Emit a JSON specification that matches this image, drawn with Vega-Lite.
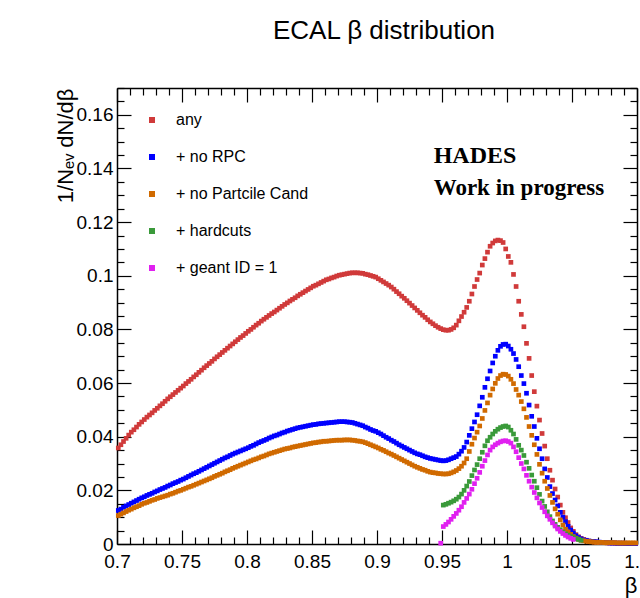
{
"$schema":"https://vega.github.io/schema/vega-lite/v6.json",
"width":520,"height":456,
"autosize":{"type":"none"},
"padding":{"left":117,"top":88,"right":3,"bottom":54},
"background":"white",
"config":{"view":{"stroke":null},"font":"Liberation Sans"},
"title":{"text":"ECAL β distribution","fontSize":26,"font":"Liberation Sans","fontWeight":"normal","anchor":"middle","baseline":"alphabetic","offset":14,"dx":7,"color":"black"},
"datasets":{
"hist":[
{"s":"a","x":0.701,"y":0.0358},{"s":"a","x":0.703,"y":0.0370},{"s":"a","x":0.705,"y":0.0382},{"s":"a","x":0.707,"y":0.0394},{"s":"a","x":0.709,"y":0.0406},
{"s":"a","x":0.711,"y":0.0417},{"s":"a","x":0.713,"y":0.0426},{"s":"a","x":0.715,"y":0.0436},{"s":"a","x":0.717,"y":0.0446},{"s":"a","x":0.719,"y":0.0455},
{"s":"a","x":0.721,"y":0.0464},{"s":"a","x":0.723,"y":0.0473},{"s":"a","x":0.725,"y":0.0481},{"s":"a","x":0.727,"y":0.0489},{"s":"a","x":0.729,"y":0.0498},
{"s":"a","x":0.731,"y":0.0506},{"s":"a","x":0.733,"y":0.0515},{"s":"a","x":0.735,"y":0.0523},{"s":"a","x":0.737,"y":0.0532},{"s":"a","x":0.739,"y":0.0541},
{"s":"a","x":0.741,"y":0.0549},{"s":"a","x":0.743,"y":0.0557},{"s":"a","x":0.745,"y":0.0565},{"s":"a","x":0.747,"y":0.0573},{"s":"a","x":0.749,"y":0.0581},
{"s":"a","x":0.751,"y":0.0589},{"s":"a","x":0.753,"y":0.0598},{"s":"a","x":0.755,"y":0.0606},{"s":"a","x":0.757,"y":0.0614},{"s":"a","x":0.759,"y":0.0623},
{"s":"a","x":0.761,"y":0.0631},{"s":"a","x":0.763,"y":0.0640},{"s":"a","x":0.765,"y":0.0648},{"s":"a","x":0.767,"y":0.0657},{"s":"a","x":0.769,"y":0.0665},
{"s":"a","x":0.771,"y":0.0673},{"s":"a","x":0.773,"y":0.0681},{"s":"a","x":0.775,"y":0.0690},{"s":"a","x":0.777,"y":0.0698},{"s":"a","x":0.779,"y":0.0706},
{"s":"a","x":0.781,"y":0.0714},{"s":"a","x":0.783,"y":0.0722},{"s":"a","x":0.785,"y":0.0730},{"s":"a","x":0.787,"y":0.0738},{"s":"a","x":0.789,"y":0.0746},
{"s":"a","x":0.791,"y":0.0754},{"s":"a","x":0.793,"y":0.0762},{"s":"a","x":0.795,"y":0.0770},{"s":"a","x":0.797,"y":0.0777},{"s":"a","x":0.799,"y":0.0785},
{"s":"a","x":0.801,"y":0.0793},{"s":"a","x":0.803,"y":0.0800},{"s":"a","x":0.805,"y":0.0808},{"s":"a","x":0.807,"y":0.0816},{"s":"a","x":0.809,"y":0.0823},
{"s":"a","x":0.811,"y":0.0831},{"s":"a","x":0.813,"y":0.0838},{"s":"a","x":0.815,"y":0.0845},{"s":"a","x":0.817,"y":0.0852},{"s":"a","x":0.819,"y":0.0859},
{"s":"a","x":0.821,"y":0.0865},{"s":"a","x":0.823,"y":0.0872},{"s":"a","x":0.825,"y":0.0879},{"s":"a","x":0.827,"y":0.0886},{"s":"a","x":0.829,"y":0.0893},
{"s":"a","x":0.831,"y":0.0899},{"s":"a","x":0.833,"y":0.0906},{"s":"a","x":0.835,"y":0.0912},{"s":"a","x":0.837,"y":0.0918},{"s":"a","x":0.839,"y":0.0925},
{"s":"a","x":0.841,"y":0.0931},{"s":"a","x":0.843,"y":0.0937},{"s":"a","x":0.845,"y":0.0943},{"s":"a","x":0.847,"y":0.0949},{"s":"a","x":0.849,"y":0.0955},
{"s":"a","x":0.851,"y":0.0961},{"s":"a","x":0.853,"y":0.0965},{"s":"a","x":0.855,"y":0.0970},{"s":"a","x":0.857,"y":0.0975},{"s":"a","x":0.859,"y":0.0980},
{"s":"a","x":0.861,"y":0.0985},{"s":"a","x":0.863,"y":0.0988},{"s":"a","x":0.865,"y":0.0992},{"s":"a","x":0.867,"y":0.0995},{"s":"a","x":0.869,"y":0.0999},
{"s":"a","x":0.871,"y":0.1002},{"s":"a","x":0.873,"y":0.1004},{"s":"a","x":0.875,"y":0.1006},{"s":"a","x":0.877,"y":0.1008},{"s":"a","x":0.879,"y":0.1010},
{"s":"a","x":0.881,"y":0.1011},{"s":"a","x":0.883,"y":0.1011},{"s":"a","x":0.885,"y":0.1011},{"s":"a","x":0.887,"y":0.1010},{"s":"a","x":0.889,"y":0.1009},
{"s":"a","x":0.891,"y":0.1006},{"s":"a","x":0.893,"y":0.1004},{"s":"a","x":0.895,"y":0.1001},{"s":"a","x":0.897,"y":0.0998},{"s":"a","x":0.899,"y":0.0995},
{"s":"a","x":0.901,"y":0.0989},{"s":"a","x":0.903,"y":0.0983},{"s":"a","x":0.905,"y":0.0977},{"s":"a","x":0.907,"y":0.0971},{"s":"a","x":0.909,"y":0.0965},
{"s":"a","x":0.911,"y":0.0958},{"s":"a","x":0.913,"y":0.0950},{"s":"a","x":0.915,"y":0.0941},{"s":"a","x":0.917,"y":0.0933},{"s":"a","x":0.919,"y":0.0924},
{"s":"a","x":0.921,"y":0.0916},{"s":"a","x":0.923,"y":0.0907},{"s":"a","x":0.925,"y":0.0898},{"s":"a","x":0.927,"y":0.0889},{"s":"a","x":0.929,"y":0.0880},
{"s":"a","x":0.931,"y":0.0871},{"s":"a","x":0.933,"y":0.0862},{"s":"a","x":0.935,"y":0.0853},{"s":"a","x":0.937,"y":0.0845},{"s":"a","x":0.939,"y":0.0836},
{"s":"a","x":0.941,"y":0.0828},{"s":"a","x":0.943,"y":0.0821},{"s":"a","x":0.945,"y":0.0814},{"s":"a","x":0.947,"y":0.0808},{"s":"a","x":0.949,"y":0.0803},
{"s":"a","x":0.951,"y":0.0799},{"s":"a","x":0.953,"y":0.0797},{"s":"a","x":0.955,"y":0.0797},{"s":"a","x":0.957,"y":0.0800},{"s":"a","x":0.959,"y":0.0806},
{"s":"a","x":0.961,"y":0.0816},{"s":"a","x":0.963,"y":0.0832},{"s":"a","x":0.965,"y":0.0848},{"s":"a","x":0.967,"y":0.0864},{"s":"a","x":0.969,"y":0.0882},
{"s":"a","x":0.971,"y":0.0905},{"s":"a","x":0.973,"y":0.0932},{"s":"a","x":0.975,"y":0.0960},{"s":"a","x":0.977,"y":0.0986},{"s":"a","x":0.979,"y":0.1010},
{"s":"a","x":0.981,"y":0.1040},{"s":"a","x":0.983,"y":0.1064},{"s":"a","x":0.985,"y":0.1088},{"s":"a","x":0.987,"y":0.1110},{"s":"a","x":0.989,"y":0.1122},
{"s":"a","x":0.991,"y":0.1130},{"s":"a","x":0.993,"y":0.1133},{"s":"a","x":0.995,"y":0.1131},{"s":"a","x":0.997,"y":0.1124},{"s":"a","x":0.999,"y":0.1100},
{"s":"a","x":1.001,"y":0.1072},{"s":"a","x":1.003,"y":0.1050},{"s":"a","x":1.005,"y":0.1005},{"s":"a","x":1.007,"y":0.0960},{"s":"a","x":1.009,"y":0.0905},
{"s":"a","x":1.011,"y":0.0856},{"s":"a","x":1.013,"y":0.0810},{"s":"a","x":1.015,"y":0.0748},{"s":"a","x":1.017,"y":0.0692},{"s":"a","x":1.019,"y":0.0628},
{"s":"a","x":1.021,"y":0.0568},{"s":"a","x":1.023,"y":0.0514},{"s":"a","x":1.025,"y":0.0462},{"s":"a","x":1.027,"y":0.0412},{"s":"a","x":1.029,"y":0.0365},
{"s":"a","x":1.031,"y":0.0318},{"s":"a","x":1.033,"y":0.0275},{"s":"a","x":1.035,"y":0.0238},{"s":"a","x":1.037,"y":0.0205},{"s":"a","x":1.039,"y":0.0175},
{"s":"a","x":1.041,"y":0.0145},{"s":"a","x":1.043,"y":0.0118},{"s":"a","x":1.045,"y":0.0098},{"s":"a","x":1.047,"y":0.0080},{"s":"a","x":1.049,"y":0.0060},
{"s":"a","x":1.051,"y":0.0047},{"s":"a","x":1.053,"y":0.0035},{"s":"a","x":1.055,"y":0.0027},{"s":"a","x":1.057,"y":0.0021},{"s":"a","x":1.059,"y":0.0017},
{"s":"a","x":1.061,"y":0.0014},{"s":"a","x":1.063,"y":0.0011},{"s":"a","x":1.065,"y":0.0009},{"s":"a","x":1.067,"y":0.0008},{"s":"a","x":1.069,"y":0.0007},
{"s":"a","x":1.071,"y":0.0006},{"s":"a","x":1.073,"y":0.0005},{"s":"a","x":1.075,"y":0.0005},{"s":"a","x":1.077,"y":0.0004},{"s":"a","x":1.079,"y":0.0004},
{"s":"a","x":1.081,"y":0.0004},{"s":"a","x":1.083,"y":0.0003},{"s":"a","x":1.085,"y":0.0003},{"s":"a","x":1.087,"y":0.0003},{"s":"a","x":1.089,"y":0.0003},
{"s":"a","x":1.091,"y":0.0002},{"s":"a","x":1.093,"y":0.0002},{"s":"a","x":1.095,"y":0.0002},{"s":"a","x":1.097,"y":0.0002},{"s":"a","x":1.099,"y":0.0002},
{"s":"b","x":0.701,"y":0.0125},{"s":"b","x":0.703,"y":0.0130},{"s":"b","x":0.705,"y":0.0137},{"s":"b","x":0.707,"y":0.0142},{"s":"b","x":0.709,"y":0.0147},
{"s":"b","x":0.711,"y":0.0152},{"s":"b","x":0.713,"y":0.0157},{"s":"b","x":0.715,"y":0.0162},{"s":"b","x":0.717,"y":0.0167},{"s":"b","x":0.719,"y":0.0172},
{"s":"b","x":0.721,"y":0.0176},{"s":"b","x":0.723,"y":0.0181},{"s":"b","x":0.725,"y":0.0185},{"s":"b","x":0.727,"y":0.0189},{"s":"b","x":0.729,"y":0.0194},
{"s":"b","x":0.731,"y":0.0198},{"s":"b","x":0.733,"y":0.0203},{"s":"b","x":0.735,"y":0.0207},{"s":"b","x":0.737,"y":0.0211},{"s":"b","x":0.739,"y":0.0216},
{"s":"b","x":0.741,"y":0.0220},{"s":"b","x":0.743,"y":0.0225},{"s":"b","x":0.745,"y":0.0229},{"s":"b","x":0.747,"y":0.0233},{"s":"b","x":0.749,"y":0.0238},
{"s":"b","x":0.751,"y":0.0242},{"s":"b","x":0.753,"y":0.0247},{"s":"b","x":0.755,"y":0.0252},{"s":"b","x":0.757,"y":0.0257},{"s":"b","x":0.759,"y":0.0262},
{"s":"b","x":0.761,"y":0.0266},{"s":"b","x":0.763,"y":0.0271},{"s":"b","x":0.765,"y":0.0276},{"s":"b","x":0.767,"y":0.0281},{"s":"b","x":0.769,"y":0.0286},
{"s":"b","x":0.771,"y":0.0291},{"s":"b","x":0.773,"y":0.0296},{"s":"b","x":0.775,"y":0.0301},{"s":"b","x":0.777,"y":0.0306},{"s":"b","x":0.779,"y":0.0311},
{"s":"b","x":0.781,"y":0.0316},{"s":"b","x":0.783,"y":0.0321},{"s":"b","x":0.785,"y":0.0325},{"s":"b","x":0.787,"y":0.0330},{"s":"b","x":0.789,"y":0.0335},
{"s":"b","x":0.791,"y":0.0339},{"s":"b","x":0.793,"y":0.0343},{"s":"b","x":0.795,"y":0.0347},{"s":"b","x":0.797,"y":0.0351},{"s":"b","x":0.799,"y":0.0355},
{"s":"b","x":0.801,"y":0.0359},{"s":"b","x":0.803,"y":0.0364},{"s":"b","x":0.805,"y":0.0368},{"s":"b","x":0.807,"y":0.0373},{"s":"b","x":0.809,"y":0.0378},
{"s":"b","x":0.811,"y":0.0382},{"s":"b","x":0.813,"y":0.0386},{"s":"b","x":0.815,"y":0.0390},{"s":"b","x":0.817,"y":0.0395},{"s":"b","x":0.819,"y":0.0399},
{"s":"b","x":0.821,"y":0.0403},{"s":"b","x":0.823,"y":0.0406},{"s":"b","x":0.825,"y":0.0410},{"s":"b","x":0.827,"y":0.0414},{"s":"b","x":0.829,"y":0.0417},
{"s":"b","x":0.831,"y":0.0421},{"s":"b","x":0.833,"y":0.0424},{"s":"b","x":0.835,"y":0.0427},{"s":"b","x":0.837,"y":0.0430},{"s":"b","x":0.839,"y":0.0433},
{"s":"b","x":0.841,"y":0.0435},{"s":"b","x":0.843,"y":0.0437},{"s":"b","x":0.845,"y":0.0439},{"s":"b","x":0.847,"y":0.0441},{"s":"b","x":0.849,"y":0.0443},
{"s":"b","x":0.851,"y":0.0445},{"s":"b","x":0.853,"y":0.0446},{"s":"b","x":0.855,"y":0.0448},{"s":"b","x":0.857,"y":0.0449},{"s":"b","x":0.859,"y":0.0450},
{"s":"b","x":0.861,"y":0.0451},{"s":"b","x":0.863,"y":0.0452},{"s":"b","x":0.865,"y":0.0453},{"s":"b","x":0.867,"y":0.0454},{"s":"b","x":0.869,"y":0.0455},
{"s":"b","x":0.871,"y":0.0456},{"s":"b","x":0.873,"y":0.0456},{"s":"b","x":0.875,"y":0.0456},{"s":"b","x":0.877,"y":0.0455},{"s":"b","x":0.879,"y":0.0454},
{"s":"b","x":0.881,"y":0.0453},{"s":"b","x":0.883,"y":0.0450},{"s":"b","x":0.885,"y":0.0447},{"s":"b","x":0.887,"y":0.0444},{"s":"b","x":0.889,"y":0.0441},
{"s":"b","x":0.891,"y":0.0436},{"s":"b","x":0.893,"y":0.0432},{"s":"b","x":0.895,"y":0.0427},{"s":"b","x":0.897,"y":0.0423},{"s":"b","x":0.899,"y":0.0420},
{"s":"b","x":0.901,"y":0.0415},{"s":"b","x":0.903,"y":0.0410},{"s":"b","x":0.905,"y":0.0404},{"s":"b","x":0.907,"y":0.0398},{"s":"b","x":0.909,"y":0.0393},
{"s":"b","x":0.911,"y":0.0387},{"s":"b","x":0.913,"y":0.0382},{"s":"b","x":0.915,"y":0.0376},{"s":"b","x":0.917,"y":0.0370},{"s":"b","x":0.919,"y":0.0365},
{"s":"b","x":0.921,"y":0.0360},{"s":"b","x":0.923,"y":0.0355},{"s":"b","x":0.925,"y":0.0350},{"s":"b","x":0.927,"y":0.0345},{"s":"b","x":0.929,"y":0.0340},
{"s":"b","x":0.931,"y":0.0336},{"s":"b","x":0.933,"y":0.0333},{"s":"b","x":0.935,"y":0.0329},{"s":"b","x":0.937,"y":0.0325},{"s":"b","x":0.939,"y":0.0322},
{"s":"b","x":0.941,"y":0.0319},{"s":"b","x":0.943,"y":0.0317},{"s":"b","x":0.945,"y":0.0315},{"s":"b","x":0.947,"y":0.0313},{"s":"b","x":0.949,"y":0.0311},
{"s":"b","x":0.951,"y":0.0310},{"s":"b","x":0.953,"y":0.0311},{"s":"b","x":0.955,"y":0.0314},{"s":"b","x":0.957,"y":0.0318},{"s":"b","x":0.959,"y":0.0322},
{"s":"b","x":0.961,"y":0.0326},{"s":"b","x":0.963,"y":0.0335},{"s":"b","x":0.965,"y":0.0346},{"s":"b","x":0.967,"y":0.0360},{"s":"b","x":0.969,"y":0.0380},
{"s":"b","x":0.971,"y":0.0405},{"s":"b","x":0.973,"y":0.0430},{"s":"b","x":0.975,"y":0.0455},{"s":"b","x":0.977,"y":0.0482},{"s":"b","x":0.979,"y":0.0515},
{"s":"b","x":0.981,"y":0.0547},{"s":"b","x":0.983,"y":0.0584},{"s":"b","x":0.985,"y":0.0616},{"s":"b","x":0.987,"y":0.0645},{"s":"b","x":0.989,"y":0.0675},
{"s":"b","x":0.991,"y":0.0700},{"s":"b","x":0.993,"y":0.0722},{"s":"b","x":0.995,"y":0.0737},{"s":"b","x":0.997,"y":0.0744},{"s":"b","x":0.999,"y":0.0745},
{"s":"b","x":1.001,"y":0.0738},{"s":"b","x":1.003,"y":0.0726},{"s":"b","x":1.005,"y":0.0710},{"s":"b","x":1.007,"y":0.0688},{"s":"b","x":1.009,"y":0.0661},
{"s":"b","x":1.011,"y":0.0628},{"s":"b","x":1.013,"y":0.0598},{"s":"b","x":1.015,"y":0.0562},{"s":"b","x":1.017,"y":0.0518},{"s":"b","x":1.019,"y":0.0476},
{"s":"b","x":1.021,"y":0.0438},{"s":"b","x":1.023,"y":0.0394},{"s":"b","x":1.025,"y":0.0355},{"s":"b","x":1.027,"y":0.0318},{"s":"b","x":1.029,"y":0.0280},
{"s":"b","x":1.031,"y":0.0248},{"s":"b","x":1.033,"y":0.0214},{"s":"b","x":1.035,"y":0.0188},{"s":"b","x":1.037,"y":0.0164},{"s":"b","x":1.039,"y":0.0142},
{"s":"b","x":1.041,"y":0.0118},{"s":"b","x":1.043,"y":0.0100},{"s":"b","x":1.045,"y":0.0083},{"s":"b","x":1.047,"y":0.0066},{"s":"b","x":1.049,"y":0.0052},
{"s":"b","x":1.051,"y":0.0041},{"s":"b","x":1.053,"y":0.0031},{"s":"b","x":1.055,"y":0.0024},{"s":"b","x":1.057,"y":0.0019},{"s":"b","x":1.059,"y":0.0015},
{"s":"b","x":1.061,"y":0.0013},{"s":"b","x":1.063,"y":0.0011},{"s":"b","x":1.065,"y":0.0010},{"s":"b","x":1.067,"y":0.0009},{"s":"b","x":1.069,"y":0.0008},
{"s":"b","x":1.071,"y":0.0007},{"s":"b","x":1.073,"y":0.0006},{"s":"b","x":1.075,"y":0.0005},{"s":"b","x":1.077,"y":0.0005},{"s":"b","x":1.079,"y":0.0004},
{"s":"b","x":1.081,"y":0.0004},{"s":"b","x":1.083,"y":0.0004},{"s":"b","x":1.085,"y":0.0003},{"s":"b","x":1.087,"y":0.0003},{"s":"b","x":1.089,"y":0.0003},
{"s":"b","x":1.091,"y":0.0003},{"s":"b","x":1.093,"y":0.0002},{"s":"b","x":1.095,"y":0.0002},{"s":"b","x":1.097,"y":0.0002},{"s":"b","x":1.099,"y":0.0002},
{"s":"c","x":0.701,"y":0.0106},{"s":"c","x":0.703,"y":0.0111},{"s":"c","x":0.705,"y":0.0116},{"s":"c","x":0.707,"y":0.0121},{"s":"c","x":0.709,"y":0.0126},
{"s":"c","x":0.711,"y":0.0130},{"s":"c","x":0.713,"y":0.0135},{"s":"c","x":0.715,"y":0.0139},{"s":"c","x":0.717,"y":0.0143},{"s":"c","x":0.719,"y":0.0148},
{"s":"c","x":0.721,"y":0.0152},{"s":"c","x":0.723,"y":0.0155},{"s":"c","x":0.725,"y":0.0159},{"s":"c","x":0.727,"y":0.0163},{"s":"c","x":0.729,"y":0.0166},
{"s":"c","x":0.731,"y":0.0170},{"s":"c","x":0.733,"y":0.0173},{"s":"c","x":0.735,"y":0.0176},{"s":"c","x":0.737,"y":0.0179},{"s":"c","x":0.739,"y":0.0182},
{"s":"c","x":0.741,"y":0.0186},{"s":"c","x":0.743,"y":0.0189},{"s":"c","x":0.745,"y":0.0193},{"s":"c","x":0.747,"y":0.0197},{"s":"c","x":0.749,"y":0.0200},
{"s":"c","x":0.751,"y":0.0204},{"s":"c","x":0.753,"y":0.0208},{"s":"c","x":0.755,"y":0.0212},{"s":"c","x":0.757,"y":0.0215},{"s":"c","x":0.759,"y":0.0219},
{"s":"c","x":0.761,"y":0.0223},{"s":"c","x":0.763,"y":0.0227},{"s":"c","x":0.765,"y":0.0231},{"s":"c","x":0.767,"y":0.0235},{"s":"c","x":0.769,"y":0.0239},
{"s":"c","x":0.771,"y":0.0243},{"s":"c","x":0.773,"y":0.0247},{"s":"c","x":0.775,"y":0.0252},{"s":"c","x":0.777,"y":0.0256},{"s":"c","x":0.779,"y":0.0260},
{"s":"c","x":0.781,"y":0.0264},{"s":"c","x":0.783,"y":0.0269},{"s":"c","x":0.785,"y":0.0273},{"s":"c","x":0.787,"y":0.0277},{"s":"c","x":0.789,"y":0.0282},
{"s":"c","x":0.791,"y":0.0286},{"s":"c","x":0.793,"y":0.0290},{"s":"c","x":0.795,"y":0.0294},{"s":"c","x":0.797,"y":0.0298},{"s":"c","x":0.799,"y":0.0302},
{"s":"c","x":0.801,"y":0.0306},{"s":"c","x":0.803,"y":0.0310},{"s":"c","x":0.805,"y":0.0314},{"s":"c","x":0.807,"y":0.0317},{"s":"c","x":0.809,"y":0.0321},
{"s":"c","x":0.811,"y":0.0325},{"s":"c","x":0.813,"y":0.0328},{"s":"c","x":0.815,"y":0.0332},{"s":"c","x":0.817,"y":0.0336},{"s":"c","x":0.819,"y":0.0339},
{"s":"c","x":0.821,"y":0.0342},{"s":"c","x":0.823,"y":0.0345},{"s":"c","x":0.825,"y":0.0348},{"s":"c","x":0.827,"y":0.0351},{"s":"c","x":0.829,"y":0.0354},
{"s":"c","x":0.831,"y":0.0356},{"s":"c","x":0.833,"y":0.0358},{"s":"c","x":0.835,"y":0.0361},{"s":"c","x":0.837,"y":0.0363},{"s":"c","x":0.839,"y":0.0365},
{"s":"c","x":0.841,"y":0.0367},{"s":"c","x":0.843,"y":0.0369},{"s":"c","x":0.845,"y":0.0371},{"s":"c","x":0.847,"y":0.0373},{"s":"c","x":0.849,"y":0.0375},
{"s":"c","x":0.851,"y":0.0377},{"s":"c","x":0.853,"y":0.0378},{"s":"c","x":0.855,"y":0.0380},{"s":"c","x":0.857,"y":0.0381},{"s":"c","x":0.859,"y":0.0383},
{"s":"c","x":0.861,"y":0.0383},{"s":"c","x":0.863,"y":0.0384},{"s":"c","x":0.865,"y":0.0385},{"s":"c","x":0.867,"y":0.0386},{"s":"c","x":0.869,"y":0.0387},
{"s":"c","x":0.871,"y":0.0387},{"s":"c","x":0.873,"y":0.0387},{"s":"c","x":0.875,"y":0.0388},{"s":"c","x":0.877,"y":0.0388},{"s":"c","x":0.879,"y":0.0388},
{"s":"c","x":0.881,"y":0.0387},{"s":"c","x":0.883,"y":0.0386},{"s":"c","x":0.885,"y":0.0384},{"s":"c","x":0.887,"y":0.0383},{"s":"c","x":0.889,"y":0.0381},
{"s":"c","x":0.891,"y":0.0378},{"s":"c","x":0.893,"y":0.0374},{"s":"c","x":0.895,"y":0.0370},{"s":"c","x":0.897,"y":0.0366},{"s":"c","x":0.899,"y":0.0362},
{"s":"c","x":0.901,"y":0.0358},{"s":"c","x":0.903,"y":0.0353},{"s":"c","x":0.905,"y":0.0349},{"s":"c","x":0.907,"y":0.0344},{"s":"c","x":0.909,"y":0.0339},
{"s":"c","x":0.911,"y":0.0335},{"s":"c","x":0.913,"y":0.0330},{"s":"c","x":0.915,"y":0.0325},{"s":"c","x":0.917,"y":0.0320},{"s":"c","x":0.919,"y":0.0315},
{"s":"c","x":0.921,"y":0.0310},{"s":"c","x":0.923,"y":0.0305},{"s":"c","x":0.925,"y":0.0300},{"s":"c","x":0.927,"y":0.0295},{"s":"c","x":0.929,"y":0.0290},
{"s":"c","x":0.931,"y":0.0286},{"s":"c","x":0.933,"y":0.0282},{"s":"c","x":0.935,"y":0.0278},{"s":"c","x":0.937,"y":0.0275},{"s":"c","x":0.939,"y":0.0271},
{"s":"c","x":0.941,"y":0.0268},{"s":"c","x":0.943,"y":0.0266},{"s":"c","x":0.945,"y":0.0265},{"s":"c","x":0.947,"y":0.0263},{"s":"c","x":0.949,"y":0.0262},
{"s":"c","x":0.951,"y":0.0261},{"s":"c","x":0.953,"y":0.0261},{"s":"c","x":0.955,"y":0.0262},{"s":"c","x":0.957,"y":0.0265},{"s":"c","x":0.959,"y":0.0269},
{"s":"c","x":0.961,"y":0.0274},{"s":"c","x":0.963,"y":0.0281},{"s":"c","x":0.965,"y":0.0290},{"s":"c","x":0.967,"y":0.0302},{"s":"c","x":0.969,"y":0.0318},
{"s":"c","x":0.971,"y":0.0345},{"s":"c","x":0.973,"y":0.0372},{"s":"c","x":0.975,"y":0.0395},{"s":"c","x":0.977,"y":0.0417},{"s":"c","x":0.979,"y":0.0440},
{"s":"c","x":0.981,"y":0.0468},{"s":"c","x":0.983,"y":0.0498},{"s":"c","x":0.985,"y":0.0526},{"s":"c","x":0.987,"y":0.0555},{"s":"c","x":0.989,"y":0.0578},
{"s":"c","x":0.991,"y":0.0599},{"s":"c","x":0.993,"y":0.0617},{"s":"c","x":0.995,"y":0.0628},{"s":"c","x":0.997,"y":0.0633},{"s":"c","x":0.999,"y":0.0632},
{"s":"c","x":1.001,"y":0.0626},{"s":"c","x":1.003,"y":0.0614},{"s":"c","x":1.005,"y":0.0598},{"s":"c","x":1.007,"y":0.0576},{"s":"c","x":1.009,"y":0.0555},
{"s":"c","x":1.011,"y":0.0531},{"s":"c","x":1.013,"y":0.0504},{"s":"c","x":1.015,"y":0.0472},{"s":"c","x":1.017,"y":0.0438},{"s":"c","x":1.019,"y":0.0405},
{"s":"c","x":1.021,"y":0.0370},{"s":"c","x":1.023,"y":0.0334},{"s":"c","x":1.025,"y":0.0297},{"s":"c","x":1.027,"y":0.0264},{"s":"c","x":1.029,"y":0.0234},
{"s":"c","x":1.031,"y":0.0207},{"s":"c","x":1.033,"y":0.0181},{"s":"c","x":1.035,"y":0.0155},{"s":"c","x":1.037,"y":0.0131},{"s":"c","x":1.039,"y":0.0111},
{"s":"c","x":1.041,"y":0.0090},{"s":"c","x":1.043,"y":0.0071},{"s":"c","x":1.045,"y":0.0055},{"s":"c","x":1.047,"y":0.0045},{"s":"c","x":1.049,"y":0.0036},
{"s":"c","x":1.051,"y":0.0028},{"s":"c","x":1.053,"y":0.0022},{"s":"c","x":1.055,"y":0.0018},{"s":"c","x":1.057,"y":0.0014},{"s":"c","x":1.059,"y":0.0012},
{"s":"c","x":1.061,"y":0.0010},{"s":"c","x":1.063,"y":0.0009},{"s":"c","x":1.065,"y":0.0008},{"s":"c","x":1.067,"y":0.0007},{"s":"c","x":1.069,"y":0.0006},
{"s":"c","x":1.071,"y":0.0006},{"s":"c","x":1.073,"y":0.0006},{"s":"c","x":1.075,"y":0.0005},{"s":"c","x":1.077,"y":0.0005},{"s":"c","x":1.079,"y":0.0005},
{"s":"c","x":1.081,"y":0.0005},{"s":"c","x":1.083,"y":0.0005},{"s":"c","x":1.085,"y":0.0004},{"s":"c","x":1.087,"y":0.0004},{"s":"c","x":1.089,"y":0.0004},
{"s":"c","x":1.091,"y":0.0004},{"s":"c","x":1.093,"y":0.0004},{"s":"c","x":1.095,"y":0.0004},{"s":"c","x":1.097,"y":0.0004},{"s":"c","x":1.099,"y":0.0004},
{"s":"d","x":0.951,"y":0.0145},{"s":"d","x":0.953,"y":0.0148},{"s":"d","x":0.955,"y":0.0152},{"s":"d","x":0.957,"y":0.0156},{"s":"d","x":0.959,"y":0.0161},
{"s":"d","x":0.961,"y":0.0167},{"s":"d","x":0.963,"y":0.0175},{"s":"d","x":0.965,"y":0.0186},{"s":"d","x":0.967,"y":0.0200},{"s":"d","x":0.969,"y":0.0216},
{"s":"d","x":0.971,"y":0.0233},{"s":"d","x":0.973,"y":0.0255},{"s":"d","x":0.975,"y":0.0276},{"s":"d","x":0.977,"y":0.0296},{"s":"d","x":0.979,"y":0.0318},
{"s":"d","x":0.981,"y":0.0342},{"s":"d","x":0.983,"y":0.0366},{"s":"d","x":0.985,"y":0.0385},{"s":"d","x":0.987,"y":0.0398},{"s":"d","x":0.989,"y":0.0410},
{"s":"d","x":0.991,"y":0.0420},{"s":"d","x":0.993,"y":0.0428},{"s":"d","x":0.995,"y":0.0434},{"s":"d","x":0.997,"y":0.0438},{"s":"d","x":0.999,"y":0.0440},
{"s":"d","x":1.001,"y":0.0436},{"s":"d","x":1.003,"y":0.0424},{"s":"d","x":1.005,"y":0.0410},{"s":"d","x":1.007,"y":0.0390},{"s":"d","x":1.009,"y":0.0368},
{"s":"d","x":1.011,"y":0.0350},{"s":"d","x":1.013,"y":0.0330},{"s":"d","x":1.015,"y":0.0305},{"s":"d","x":1.017,"y":0.0282},{"s":"d","x":1.019,"y":0.0257},
{"s":"d","x":1.021,"y":0.0234},{"s":"d","x":1.023,"y":0.0210},{"s":"d","x":1.025,"y":0.0185},{"s":"d","x":1.027,"y":0.0160},{"s":"d","x":1.029,"y":0.0140},
{"s":"d","x":1.031,"y":0.0120},{"s":"d","x":1.033,"y":0.0102},{"s":"d","x":1.035,"y":0.0086},{"s":"d","x":1.037,"y":0.0073},{"s":"d","x":1.039,"y":0.0062},
{"s":"d","x":1.041,"y":0.0053},{"s":"d","x":1.043,"y":0.0045},{"s":"d","x":1.045,"y":0.0038},{"s":"d","x":1.047,"y":0.0033},{"s":"d","x":1.049,"y":0.0028},
{"s":"d","x":1.051,"y":0.0024},{"s":"d","x":1.053,"y":0.0020},{"s":"d","x":1.055,"y":0.0017},{"s":"d","x":1.057,"y":0.0014},
{"s":"e","x":0.949,"y":0.0003},
{"s":"e","x":0.951,"y":0.0065},{"s":"e","x":0.953,"y":0.0073},{"s":"e","x":0.955,"y":0.0082},{"s":"e","x":0.957,"y":0.0092},{"s":"e","x":0.959,"y":0.0103},
{"s":"e","x":0.961,"y":0.0114},{"s":"e","x":0.963,"y":0.0126},{"s":"e","x":0.965,"y":0.0139},{"s":"e","x":0.967,"y":0.0155},{"s":"e","x":0.969,"y":0.0170},
{"s":"e","x":0.971,"y":0.0186},{"s":"e","x":0.973,"y":0.0204},{"s":"e","x":0.975,"y":0.0225},{"s":"e","x":0.977,"y":0.0245},{"s":"e","x":0.979,"y":0.0267},
{"s":"e","x":0.981,"y":0.0290},{"s":"e","x":0.983,"y":0.0311},{"s":"e","x":0.985,"y":0.0332},{"s":"e","x":0.987,"y":0.0350},{"s":"e","x":0.989,"y":0.0362},
{"s":"e","x":0.991,"y":0.0370},{"s":"e","x":0.993,"y":0.0376},{"s":"e","x":0.995,"y":0.0381},{"s":"e","x":0.997,"y":0.0384},{"s":"e","x":0.999,"y":0.0385},
{"s":"e","x":1.001,"y":0.0382},{"s":"e","x":1.003,"y":0.0376},{"s":"e","x":1.005,"y":0.0362},{"s":"e","x":1.007,"y":0.0344},{"s":"e","x":1.009,"y":0.0322},
{"s":"e","x":1.011,"y":0.0300},{"s":"e","x":1.013,"y":0.0280},{"s":"e","x":1.015,"y":0.0256},{"s":"e","x":1.017,"y":0.0234},{"s":"e","x":1.019,"y":0.0212},
{"s":"e","x":1.021,"y":0.0192},{"s":"e","x":1.023,"y":0.0172},{"s":"e","x":1.025,"y":0.0153},{"s":"e","x":1.027,"y":0.0136},{"s":"e","x":1.029,"y":0.0120},
{"s":"e","x":1.031,"y":0.0105},{"s":"e","x":1.033,"y":0.0092},{"s":"e","x":1.035,"y":0.0079},{"s":"e","x":1.037,"y":0.0067},{"s":"e","x":1.039,"y":0.0056},
{"s":"e","x":1.041,"y":0.0047},{"s":"e","x":1.043,"y":0.0039},{"s":"e","x":1.045,"y":0.0032},{"s":"e","x":1.047,"y":0.0026},{"s":"e","x":1.049,"y":0.0021},
{"s":"e","x":1.051,"y":0.0017}
]},
"layer":[
{
"data":{"name":"hist"},
"mark":{"type":"square","size":22,"filled":true,"opacity":1},
"encoding":{
"x":{"field":"x","type":"quantitative","scale":{"domain":[0.7,1.1],"nice":false,"zero":false},
"axis":{"orient":"bottom","values":[0.7,0.71,0.72,0.73,0.74,0.75,0.76,0.77,0.78,0.79,0.8,0.81,0.82,0.83,0.84,0.85,0.86,0.87,0.88,0.89,0.9,0.91,0.92,0.93,0.94,0.95,0.96,0.97,0.98,0.99,1.0,1.01,1.02,1.03,1.04,1.05,1.06,1.07,1.08,1.09,1.1],
"format":"~g","labelExpr":"abs(datum.value*20-round(datum.value*20))<0.001 ? datum.label : ''",
"tickSize":{"condition":{"test":"abs(datum.value*20-round(datum.value*20))<0.001","value":-14},"value":-7},
"labelFontSize":19,"labelFont":"Liberation Sans","labelColor":"black","labelPadding":22,"labelFlush":false,"labelOverlap":false,"labelBound":false,
"domainColor":"black","domainWidth":1.5,"tickColor":"black","tickWidth":1.2,"grid":false,
"title":"β","titleFont":"Liberation Sans","titleFontSize":22,"titleFontWeight":"normal","titleColor":"black","titleAlign":"right","titleBaseline":"alphabetic","titleX":520,"titleY":48}},
"y":{"field":"y","type":"quantitative","scale":{"domain":[0,0.17],"nice":false,"zero":true},
"axis":{"orient":"left","values":[0,0.005,0.01,0.015,0.02,0.025,0.03,0.035,0.04,0.045,0.05,0.055,0.06,0.065,0.07,0.075,0.08,0.085,0.09,0.095,0.1,0.105,0.11,0.115,0.12,0.125,0.13,0.135,0.14,0.145,0.15,0.155,0.16,0.165,0.17],
"format":"~g","labelExpr":"abs(datum.value*50-round(datum.value*50))<0.001 ? datum.label : ''",
"tickSize":{"condition":{"test":"abs(datum.value*50-round(datum.value*50))<0.001","value":-14},"value":-7},
"labelFontSize":19,"labelFont":"Liberation Sans","labelColor":"black","labelPadding":18,"labelFlush":false,"labelOverlap":false,"labelBound":false,
"domainColor":"black","domainWidth":1.5,"tickColor":"black","tickWidth":1.2,"grid":false,
"title":"1/Nₑᵥ dN/dβ","titleFont":"Liberation Sans","titleFontSize":22,"titleFontWeight":"normal","titleColor":"black","titleAngle":-90,"titleAlign":"right","titleBaseline":"alphabetic","titleX":-45,"titleY":0}},
"color":{"field":"s","type":"nominal","scale":{"domain":["a","b","c","d","e"],"range":["#d03a3a","#0000ff","#d06a00","#3a9a3a","#e020f0"]},
"legend":{"orient":"none","legendX":27,"legendY":24,"title":null,"padding":0,"labelFontSize":16,"labelFont":"Liberation Sans","labelColor":"black","symbolSize":36,"symbolType":"square","symbolStrokeWidth":0,"labelOffset":16,"rowPadding":21,
"labelExpr":"datum.label=='a' ? 'any' : datum.label=='b' ? '+ no RPC' : datum.label=='c' ? '+ no Partcile Cand' : datum.label=='d' ? '+ hardcuts' : '+ geant ID = 1'"}}
}
},
{
"data":{"values":[{"x":0.9436,"y":0.142,"t":"HADES"}]},
"mark":{"type":"text","align":"left","baseline":"alphabetic","font":"Liberation Serif","fontWeight":"bold","fontSize":24,"color":"black"},
"encoding":{
"x":{"field":"x","type":"quantitative","scale":{"domain":[0.7,1.1],"nice":false,"zero":false},
"axis":{"orient":"top","values":[0.7,0.71,0.72,0.73,0.74,0.75,0.76,0.77,0.78,0.79,0.8,0.81,0.82,0.83,0.84,0.85,0.86,0.87,0.88,0.89,0.9,0.91,0.92,0.93,0.94,0.95,0.96,0.97,0.98,0.99,1.0,1.01,1.02,1.03,1.04,1.05,1.06,1.07,1.08,1.09,1.1],
"labels":false,"tickSize":{"condition":{"test":"abs(datum.value*20-round(datum.value*20))<0.001","value":-14},"value":-7},
"domainColor":"black","domainWidth":1.5,"tickColor":"black","tickWidth":1.2,"grid":false,"title":null}},
"y":{"field":"y","type":"quantitative","scale":{"domain":[0,0.17],"nice":false,"zero":true},
"axis":{"orient":"right","values":[0,0.005,0.01,0.015,0.02,0.025,0.03,0.035,0.04,0.045,0.05,0.055,0.06,0.065,0.07,0.075,0.08,0.085,0.09,0.095,0.1,0.105,0.11,0.115,0.12,0.125,0.13,0.135,0.14,0.145,0.15,0.155,0.16,0.165,0.17],
"labels":false,"tickSize":{"condition":{"test":"abs(datum.value*50-round(datum.value*50))<0.001","value":-14},"value":-7},
"domainColor":"black","domainWidth":1.5,"tickColor":"black","tickWidth":1.2,"grid":false,"title":null}},
"text":{"field":"t","type":"nominal"}
}
},
{
"data":{"values":[{"x":0.9436,"y":0.1301,"t":"Work in progress"}]},
"mark":{"type":"text","align":"left","baseline":"alphabetic","font":"Liberation Serif","fontWeight":"bold","fontSize":23,"color":"black"},
"encoding":{
"x":{"field":"x","type":"quantitative","scale":{"domain":[0.7,1.1],"nice":false,"zero":false},"axis":null},
"y":{"field":"y","type":"quantitative","scale":{"domain":[0,0.17],"nice":false,"zero":true},"axis":null},
"text":{"field":"t","type":"nominal"}
}
}
],
"resolve":{"axis":{"x":"independent","y":"independent"}}
}
